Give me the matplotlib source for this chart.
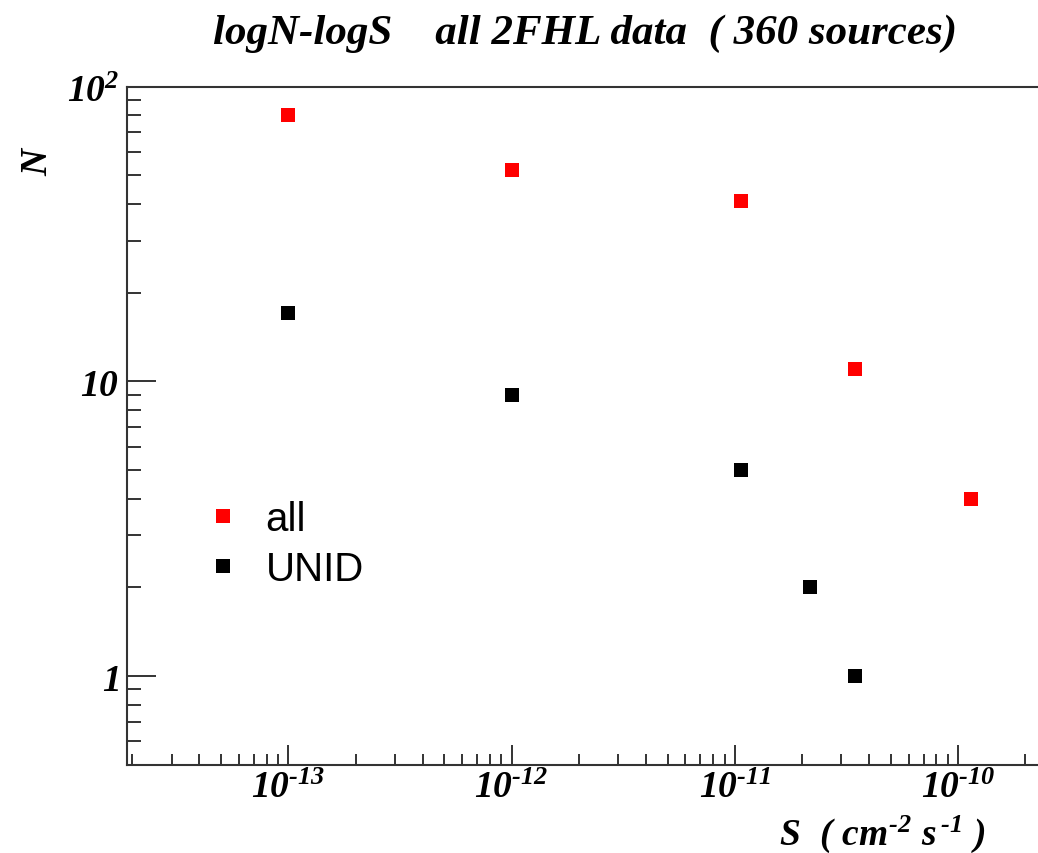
import math
import matplotlib
matplotlib.use('Agg')
import matplotlib.pyplot as plt
from matplotlib.ticker import LogLocator, FixedLocator, FuncFormatter, NullFormatter
from matplotlib.lines import Line2D

# logN-logS counts, flux bins in cm^-2 s^-1
s_all = [1.0e-13, 1.0e-12, 1.07e-11, 3.45e-11, 1.14e-10]
n_all = [80, 52, 41, 11, 4]
s_unid = [1.0e-13, 1.0e-12, 1.07e-11, 2.17e-11, 3.45e-11]
n_unid = [17, 9, 5, 2, 1]

x_decades = [1e-13, 1e-12, 1e-11, 1e-10]
y_decades = [1, 10, 100]

title = 'logN-logS    all 2FHL data  ( 360 sources)'

plt.rcParams['mathtext.fontset'] = 'custom'
plt.rcParams['mathtext.rm'] = 'Liberation Serif:italic:bold'
plt.rcParams['mathtext.it'] = 'Liberation Serif:italic:bold'
plt.rcParams['mathtext.bf'] = 'Liberation Serif:italic:bold'

W, H = 1038, 854
fig = plt.figure(figsize=(W / 100, H / 100), dpi=100)
ax = fig.add_axes([127.3 / W, 1 - 765.7 / H, 1 - 127.3 / W, (765.7 - 87.7) / H])

ax.plot(s_all, n_all, 's', color='red', markersize=9.6, markeredgewidth=0, label='all')
ax.plot(s_unid, n_unid, 's', color='black', markersize=9.6, markeredgewidth=0, label='UNID')

ax.set_xscale('log')
ax.set_yscale('log')
ax.set_xlim(1.9e-14, 2.28e-10)
ax.set_ylim(0.5, 100)

axcol = '#333333'
for side in ['left', 'bottom', 'top']:
    ax.spines[side].set_color(axcol)
    ax.spines[side].set_linewidth(1.5)
ax.spines['right'].set_visible(False)


def xfmt(v, pos):
    e = int(round(math.log10(v)))
    return r'$10^{\text{-}%d}$' % abs(e)


def yfmt(v, pos):
    e = int(round(math.log10(v)))
    if e == 0:
        return r'$1$'
    if e == 1:
        return r'$10$'
    return r'$10^{%d}$' % e


ax.xaxis.set_major_locator(FixedLocator(x_decades))
ax.xaxis.set_minor_locator(LogLocator(base=10, subs=range(2, 10), numticks=20))
ax.yaxis.set_major_locator(FixedLocator(y_decades))
ax.yaxis.set_minor_locator(LogLocator(base=10, subs=range(2, 10), numticks=20))
ax.xaxis.set_major_formatter(FuncFormatter(xfmt))
ax.yaxis.set_major_formatter(FuncFormatter(yfmt))
ax.xaxis.set_minor_formatter(NullFormatter())
ax.yaxis.set_minor_formatter(NullFormatter())

ax.tick_params(axis='x', which='major', direction='in', length=14.4, width=1.4,
               color=axcol, labelsize=27, pad=3, top=False)
ax.tick_params(axis='x', which='minor', direction='in', length=8, width=1.4,
               color=axcol, top=False)
ax.tick_params(axis='y', which='major', direction='in', length=21, width=1.4,
               color=axcol, labelsize=27, pad=6, right=False)
ax.tick_params(axis='y', which='minor', direction='in', length=10, width=1.4,
               color=axcol, right=False)

fig.text(585 / W, 1 - 34 / H, title, ha='center', va='center',
         family='Liberation Serif', style='italic', weight='bold', fontsize=31)
fig.text(37 / W, 1 - 161 / H, r'$N$', rotation=90, ha='center', va='center',
         fontsize=27)
fig.text(985 / W, 1 - 834 / H, r'$S\ \ (\ cm^{\text{-}2}\ s^{\,\text{-}1}\ )$', ha='right',
         va='center', fontsize=27)

handles = [Line2D([], [], ls='none', marker='s', color='red', markersize=9.6, markeredgewidth=0),
           Line2D([], [], ls='none', marker='s', color='black', markersize=9.6, markeredgewidth=0)]
ax.legend(handles, ['all', 'UNID'], loc='upper left',
          bbox_to_anchor=(203 / W, 1 - 501 / H), bbox_transform=fig.transFigure,
          frameon=False, borderpad=0, borderaxespad=0, handlelength=1.0,
          handletextpad=0.55, labelspacing=0.3,
          prop={'family': 'Liberation Sans', 'size': 29})

fig.savefig('out.png', dpi=100)
